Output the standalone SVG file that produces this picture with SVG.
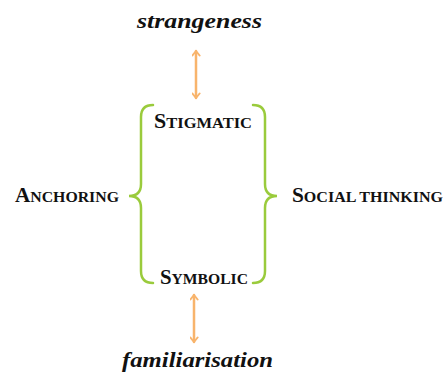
<svg xmlns="http://www.w3.org/2000/svg" width="444" height="374" viewBox="0 0 444 374">
<defs>
<style>
.it{font-family:"Liberation Serif",serif;font-weight:bold;font-style:italic;font-size:22px;fill:#111}
.sc{font-family:"Liberation Serif",serif;font-weight:bold;font-size:15px;fill:#111}
.cap{font-size:20px}
.brace{fill:none;stroke:#9acb3c;stroke-width:2.5;stroke-linecap:round}
.arr{fill:none;stroke:#f8b46c;stroke-width:2.5;stroke-linecap:round;stroke-linejoin:round}
</style>
<marker id="ah" viewBox="0 0 10 10" refX="8" refY="5" markerWidth="9" markerHeight="9" orient="auto-start-reverse" markerUnits="userSpaceOnUse">
<path d="M3,1 L8,5 L3,9" fill="none" stroke="#f8b46c" stroke-width="2.2" stroke-linecap="round" stroke-linejoin="round"/>
</marker>
</defs>
<rect width="444" height="374" fill="#fff"/>
<g id="strangeness"><text class="it" x="137" y="28" textLength="125" lengthAdjust="spacingAndGlyphs">strangeness</text></g>
<g id="stigmatic"><text class="sc" x="154" y="128" textLength="98" lengthAdjust="spacingAndGlyphs"><tspan class="cap">S</tspan>TIGMATIC</text></g>
<g id="anchoring"><text class="sc" x="15" y="202" textLength="104" lengthAdjust="spacingAndGlyphs"><tspan class="cap">A</tspan>NCHORING</text></g>
<g id="social-thinking"><text class="sc" x="292" y="202" textLength="151" lengthAdjust="spacingAndGlyphs"><tspan class="cap">S</tspan>OCIAL THINKING</text></g>
<g id="symbolic"><text class="sc" x="160" y="284" textLength="88" lengthAdjust="spacingAndGlyphs"><tspan class="cap">S</tspan>YMBOLIC</text></g>
<g id="familiarisation"><text class="it" x="122" y="367" textLength="151" lengthAdjust="spacingAndGlyphs">familiarisation</text></g>
<g id="connectors">
<path class="brace" d="M153,105 Q141,105 141,117 L141,184 Q141,196 129,196 Q141,196 141,208 L141,271 Q141,283 153,283"/>
<path class="brace" d="M253,105 Q265,105 265,117 L265,184 Q265,196 277,196 Q265,196 265,208 L265,271 Q265,283 253,283"/>
<line class="arr" x1="196" y1="51" x2="196" y2="98" marker-start="url(#ah)" marker-end="url(#ah)"/>
<line class="arr" x1="194" y1="295" x2="194" y2="342" marker-start="url(#ah)" marker-end="url(#ah)"/>
</g>
</svg>
